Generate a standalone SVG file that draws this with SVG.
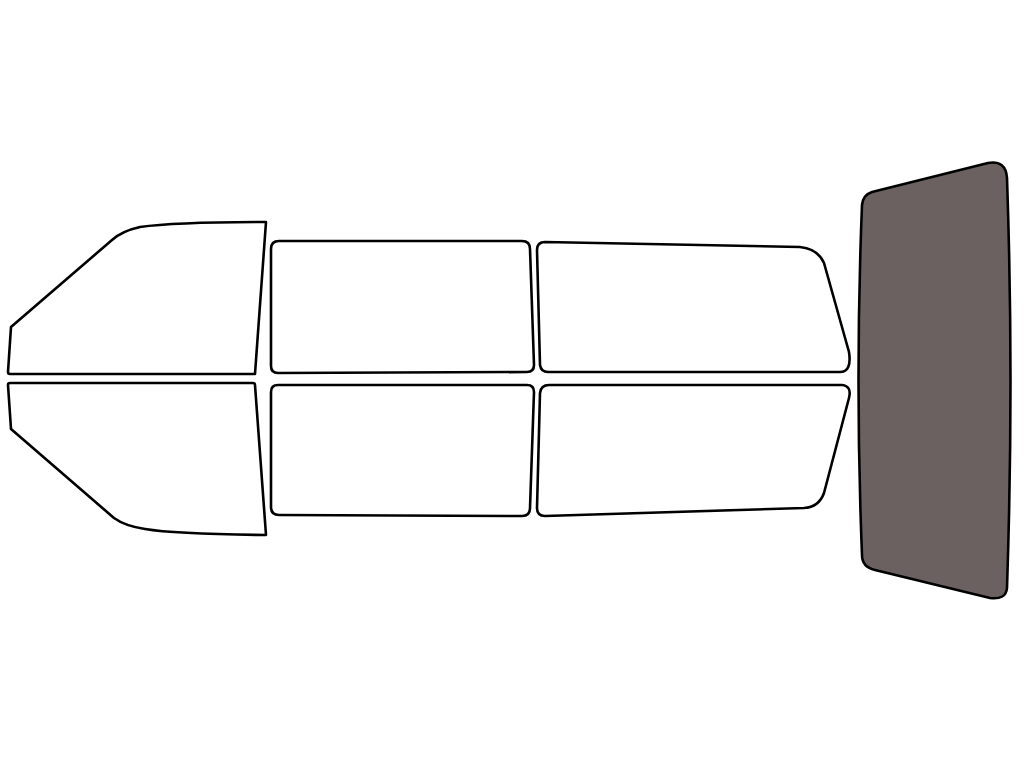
<svg xmlns="http://www.w3.org/2000/svg" width="1024" height="768" viewBox="0 0 1024 768">
<style>
.w{fill:#ffffff;stroke:#000000;stroke-width:2.6;stroke-linejoin:round}
.t{fill:#6c6161;stroke:#000000;stroke-width:2.6;stroke-linejoin:round}
</style>
<rect width="1024" height="768" fill="#ffffff"/>
<g id="front-door-top"><path class="w" d="M266,222 L255,374 L10,374 Q8,374 8,372 L11,327 L112,240 Q122,231 140,227 Q175,222 266,222 Z"/></g>
<g id="front-door-bottom"><path class="w" d="M10,383 L253,383 Q255,383 255,385 L266,535 Q175,534 145,529 Q125,526 114,518 L11,429 L8,385 Q8,383 10,383 Z"/></g>
<g id="mid-top"><path class="w" d="M279,241 L522,241 Q530,241 530,249 L534,365 Q534,372 527,372 L278,373 Q271,373 271,366 L271,249 Q271,241 279,241 Z"/></g>
<g id="mid-bottom"><path class="w" d="M278,385 L527,385 Q534,385 534,392 L530,508 Q530,516 522,516 L279,515 Q271,515 271,507 L271,392 Q271,385 278,385 Z"/></g>
<g id="rear-door-top"><path class="w" d="M545,242 L800,247 Q818,249 824,263 L849,352 Q852,372 840,372 L548,372 Q541,372 540,365 L537,250 Q537,242 545,242 Z"/></g>
<g id="rear-door-bottom"><path class="w" d="M549,385 L842,385 Q852,386 849,398 L824,493 Q819,507 804,508 L545,516 Q537,516 537,508 L540,393 Q541,385 549,385 Z"/></g>
<g id="rear-window"><path class="t" d="M872,192 L988,163 Q1006,160 1007,178 Q1014,380 1007,588 Q1006,600 990,598 L875,570 Q862,567 862,555 Q855,380 862,205 Q863,195 872,192 Z"/></g>
<g id="connectors"></g>
</svg>
